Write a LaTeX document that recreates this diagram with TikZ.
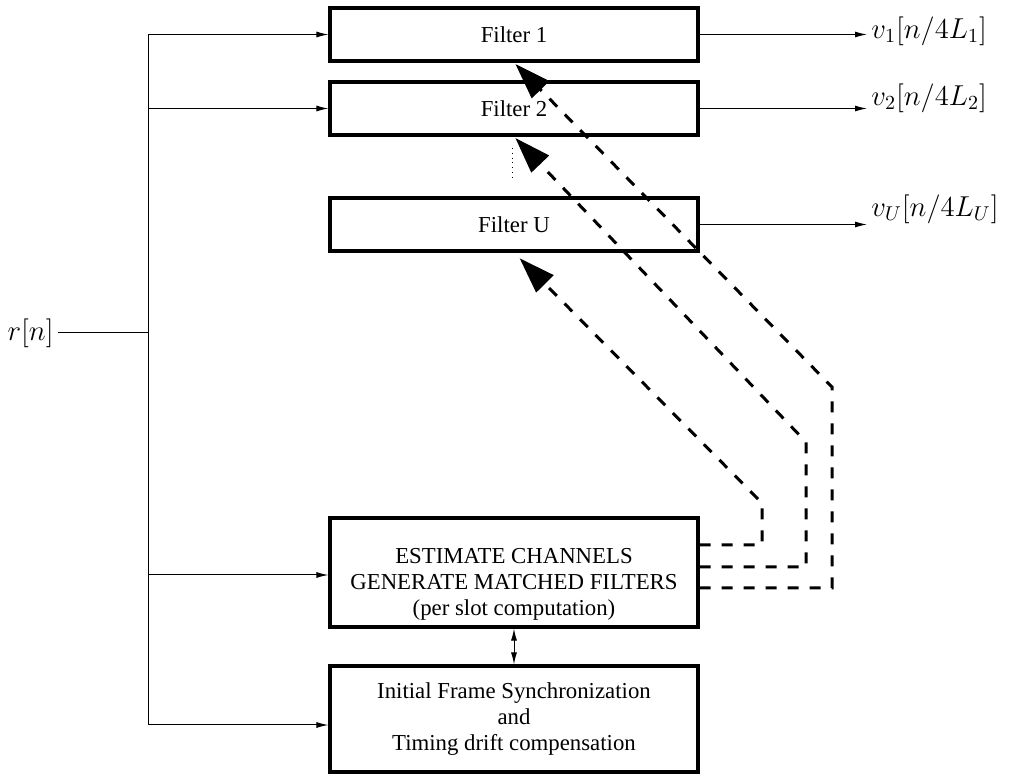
\documentclass[tikz,border=0pt]{standalone}
\usepackage[no-math]{fontspec}
\setmainfont{Liberation Serif}
\usetikzlibrary{arrows.meta}
\tikzset{
  filt/.style={draw,line width=1.6pt,minimum width=184pt,minimum height=26.5pt,inner sep=0pt,
    font=\fontsize{11.4}{13}\selectfont},
  blk/.style={filt,align=center},
  sig/.style={line width=0.5pt,-{Latex[length=6pt,width=3pt]}},
  fb/.style={line width=1.5pt,dash pattern=on 5.5pt off 5.5pt,
    -{Triangle[length=18pt,width=12pt]}},
  lbl/.style={font=\fontsize{14.3}{17}\selectfont,inner sep=2pt}
}
\begin{document}
\begin{tikzpicture}[x=0.5pt,y=-0.5pt]
\useasboundingbox (0,0) rectangle (1014,774);
% filter bank
\node[filt] at (514,34.5) (f1) {Filter 1};
\node[filt] at (514,108.5) (f2) {Filter 2};
\node[filt] at (514,224.5) (fu) {Filter U};
\draw[line width=0.4pt,dotted] (512,148) -- (512,180);
\node[blk,minimum height=54.5pt] at (514,572.5) (est) {\rule{0pt}{19pt}ESTIMATE CHANNELS\\GENERATE MATCHED FILTERS\\(per slot computation)};
\node[blk,minimum height=53pt] at (514,719) (sync) {Initial Frame Synchronization\\and\\Timing drift compensation};
% input bus
\node[lbl,anchor=east] at (58,333) (r) {$r[n]$};
\coordinate (bus) at (148,333);
\coordinate (top) at (148,34.5);
\coordinate (b2) at (148,108.5);
\coordinate (b3) at (148,575);
\coordinate (bot) at (148,725);
\draw[line width=0.5pt] (r) -- (bus);
\draw[line width=0.5pt] (top) -- (bot);
\draw[sig] (top) -- (f1.west);
\draw[sig] (b2) -- (f2.west);
\draw[sig] (b3) -- (est.west |- b3);
\draw[sig] (bot) -- (sync.west |- bot);
\draw[line width=0.5pt,{Latex[length=6pt,width=3pt]}-{Latex[length=6pt,width=3pt]}] (est.south) -- (sync.north);
% outputs
\node[lbl,anchor=west] at (867,31) (v1) {$v_1[n/4L_1]$};
\node[lbl,anchor=west] at (867,98) (v2) {$v_2[n/4L_2]$};
\node[lbl,anchor=west] at (867,209) (vu) {$v_U[n/4L_U]$};
\draw[sig] (f1.east) -- (v1.west |- f1.east);
\draw[sig] (f2.east) -- (v2.west |- f2.east);
\draw[sig] (fu.east) -- (vu.west |- fu.east);
% feedback of matched filters
\coordinate (c1) at (762,545);
\coordinate (c2) at (806,567);
\coordinate (c3) at (832,588);
\coordinate (d1) at (762,503);
\coordinate (d2) at (806,442);
\coordinate (d3) at (832,387);
\draw[fb,shorten >=4pt] (est.east |- c1) -- (c1) -- (d1) -- (fu.south);
\draw[fb,shorten >=1pt] (est.east |- c2) -- (c2) -- (d2) -- (f2.south);
\draw[fb,shorten >=1pt] (est.east |- c3) -- (c3) -- (d3) -- (f1.south);
\end{tikzpicture}
\end{document}
